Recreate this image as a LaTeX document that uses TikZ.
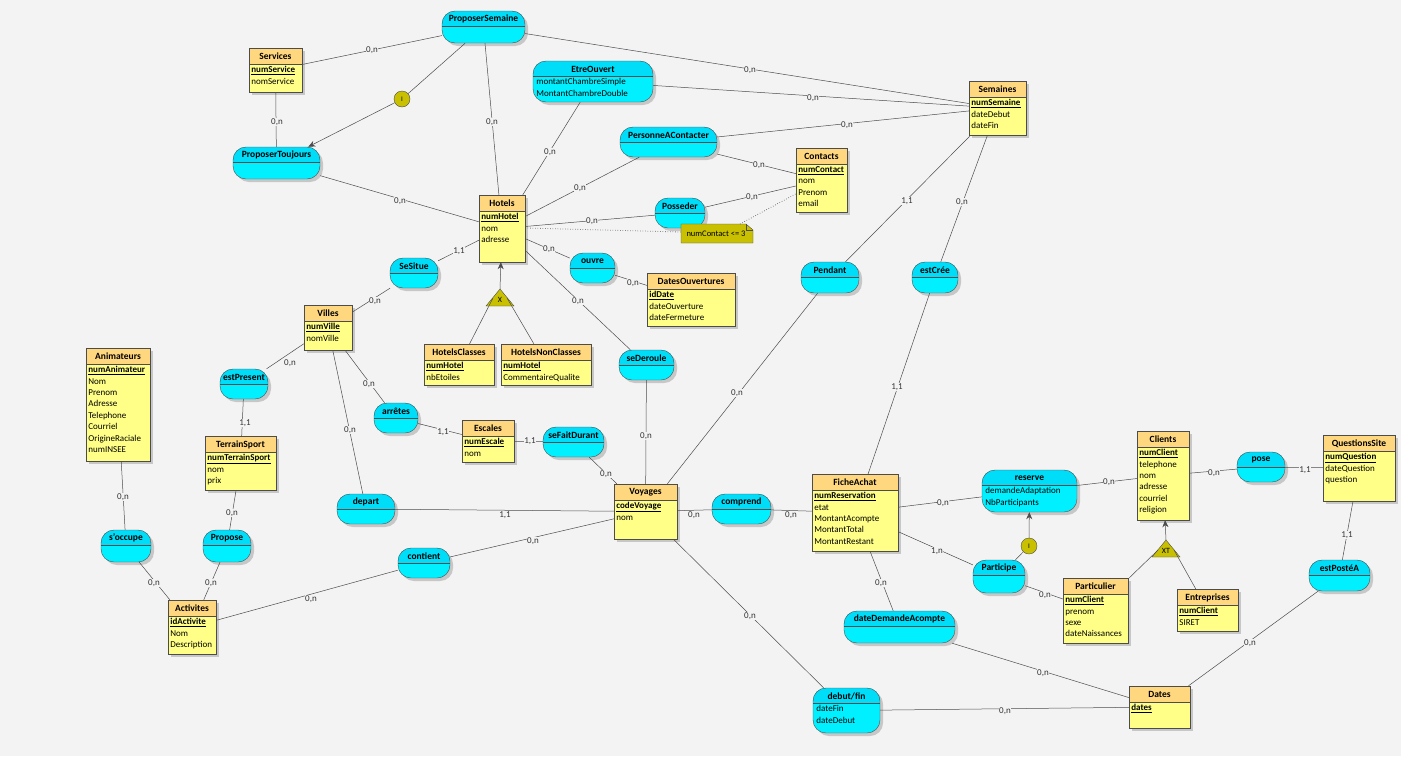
\documentclass[tikz,border=0pt]{standalone}
\usepackage{fontspec}
\setmainfont{Carlito}
\usetikzlibrary{arrows.meta}
\definecolor{bg}{HTML}{F3F3F3}
\definecolor{enthead}{HTML}{FFD77F}
\definecolor{entbody}{HTML}{FFFF88}
\definecolor{assohead}{HTML}{00DDF8}
\definecolor{assobody}{HTML}{00F0FF}
\definecolor{olive}{HTML}{C8C000}
\tikzset{
 lnk/.style={draw=black!70, line width=0.5pt},
 lbl/.style={fill=bg, inner sep=0.5pt, font=\fontsize{9}{10}\selectfont, text=black!80},
 arr/.style={lnk, -{Stealth[length=7pt,width=6pt]}},
}
\newcommand\ent[7]{%
 \fill[black!22] ({#2+3},{#3+3}) rectangle ({#2+#4+3},{#3+#5+3});
 \draw[fill=entbody, draw=black!70] (#2,#3) rectangle ({#2+#4},{#3+#5});
 \draw[fill=enthead, draw=black!70] (#2,#3) rectangle ({#2+#4},{#3+16});
 \node[font=\fontsize{9.5}{10}\selectfont\bfseries] at ({#2+#4/2},{#3+8.5}) {#6};
 \node[anchor=north west, align=left, inner sep=2.2pt, font=\fontsize{9}{11.4}\selectfont] at (#2,{#3+16}) {#7};
 \node[inner sep=0, minimum width=#4, minimum height=#5] (#1) at ({#2+#4/2},{#3+#5/2}) {};
}
\newcommand\asso[7]{%
 \fill[black!22, rounded corners=13pt] ({#2+3},{#3+3}) rectangle ({#4+3},{#5+3});
 \begin{scope}
  \clip[rounded corners=13pt] (#2,#3) rectangle (#4,#5);
  \fill[assobody] (#2,#3) rectangle (#4,#5);
  \fill[assohead] (#2,#3) rectangle (#4,{#3+15});
  \draw[black!70] (#2,{#3+15}) -- (#4,{#3+15});
 \end{scope}
 \draw[black!70, rounded corners=13pt] (#2,#3) rectangle (#4,#5);
 \node[font=\fontsize{9.5}{10}\selectfont\bfseries] at ({(#2+#4)/2},{#3+8}) {#6};
 \node[anchor=north west, align=left, inner sep=2.2pt, font=\fontsize{9}{11.4}\selectfont] at ({#2+1},{#3+15}) {#7};
 \node[inner sep=0, minimum width={#4-#2}, minimum height={#5-#3}] (#1) at ({(#2+#4)/2},{(#3+#5)/2}) {};
}
\newcommand\K[1]{\underline{\textbf{#1}}}
\begin{document}
\begin{tikzpicture}[x=1pt,y=-1pt]
\fill[bg] (0,0) rectangle (1401,756);
\useasboundingbox (0,0) rectangle (1401,756);
% entities
\ent{services}{249}{48}{53}{44}{Services}{\K{numService}\\nomService}
\ent{semaines}{969}{81}{57}{54}{Semaines}{\K{numSemaine}\\dateDebut\\dateFin}
\ent{contacts}{796}{148}{51}{64}{Contacts}{\K{numContact}\\nom\\Prenom\\email}
\ent{hotels}{479}{195}{46}{67}{Hotels}{\K{numHotel}\\nom\\adresse}
\ent{datesouv}{647}{273}{88}{53}{DatesOuvertures}{\K{idDate}\\dateOuverture\\dateFermeture}
\ent{villes}{304}{305}{48}{45}{Villes}{\K{numVille}\\nomVille}
\ent{hclass}{424}{344}{70}{41}{HotelsClasses}{\K{numHotel}\\nbEtoiles}
\ent{hnclass}{501}{344}{90}{41}{HotelsNonClasses}{\K{numHotel}\\CommentaireQualite}
\ent{anim}{86}{348}{64}{113}{Animateurs}{\K{numAnimateur}\\Nom\\Prenom\\Adresse\\Telephone\\Courriel\\OrigineRaciale\\numINSEE}
\ent{terrain}{205}{436}{71}{54}{TerrainSport}{\K{numTerrainSport}\\nom\\prix}
\ent{escales}{462}{420}{52}{42}{Escales}{\K{numEscale}\\nom}
\ent{voyages}{614}{484}{63}{55}{Voyages}{\K{codeVoyage}\\nom}
\ent{fiche}{812}{474}{86}{77}{FicheAchat}{\K{numReservation}\\etat\\MontantAcompte\\MontantTotal\\MontantRestant}
\ent{clients}{1137}{431}{52}{89}{Clients}{\K{numClient}\\telephone\\nom\\adresse\\courriel\\religion}
\ent{questions}{1323}{435}{72}{66}{QuestionsSite}{\K{numQuestion}\\dateQuestion\\question}
\ent{partic}{1063}{578}{65}{65}{Particulier}{\K{numClient}\\prenom\\sexe\\dateNaissances}
\ent{entrep}{1177}{589}{61}{42}{Entreprises}{\K{numClient}\\SIRET}
\ent{activ}{168}{600}{48}{54}{Activites}{\K{idActivite}\\Nom\\Description}
\ent{dates}{1129}{686}{61}{42}{Dates}{\K{dates}}
% associations
\asso{propsem}{442}{11}{525}{43}{ProposerSemaine}{}
\asso{etreouv}{533}{61}{653}{102}{EtreOuvert}{montantChambreSimple\\MontantChambreDouble}
\asso{proptouj}{233}{147}{320}{179}{ProposerToujours}{}
\asso{pers}{620}{127}{717}{157}{PersonneAContacter}{}
\asso{poss}{655}{198}{705}{228}{Posseder}{}
\asso{sesitue}{390}{258}{438}{288}{SeSitue}{}
\asso{ouvre}{570}{253}{615}{283}{ouvre}{}
\asso{estpres}{220}{369}{268}{399}{estPresent}{}
\asso{arretes}{374}{403}{418}{433}{arrêtes}{}
\asso{sefait}{543}{427}{604}{457}{seFaitDurant}{}
\asso{sederoule}{619}{350}{674}{380}{seDeroule}{}
\asso{pendant}{801}{262}{859}{293}{Pendant}{}
\asso{estcree}{912}{262}{958}{293}{estCrée}{}
\asso{depart}{337}{494}{395}{524}{depart}{}
\asso{comprend}{712}{494}{771}{524}{comprend}{}
\asso{soccupe}{101}{530}{151}{562}{s'occupe}{}
\asso{propose}{203}{530}{251}{562}{Propose}{}
\asso{contient}{398}{548}{450}{578}{contient}{}
\asso{reserve}{982}{470}{1077}{512}{reserve}{demandeAdaptation\\NbParticipants}
\asso{participe}{973}{560}{1025}{593}{Participe}{}
\asso{pose}{1237}{452}{1285}{482}{pose}{}
\asso{estposte}{1309}{560}{1370}{591}{estPostéA}{}
\asso{datedem}{844}{611}{955}{643}{dateDemandeAcompte}{}
\asso{debutfin}{813}{688}{880}{733}{debut/fin}{dateFin\\dateDebut}
% markers
\node[circle, draw=black!70, fill=olive, minimum size=16pt, inner sep=0, font=\fontsize{7}{8}\selectfont] (i1) at (402,99) {I};
\node[circle, draw=black!70, fill=olive, minimum size=16pt, inner sep=0, font=\fontsize{7}{8}\selectfont] (i2) at (1029,546) {I};
\draw[fill=olive, draw=black!70] (486,306) -- (500,289) -- (514,306) -- cycle;
\node[font=\fontsize{8}{8}\selectfont, inner sep=0] (x1) at (500,300) {X};
\draw[fill=olive, draw=black!70] (1152,557) -- (1166,540) -- (1180,557) -- cycle;
\node[font=\fontsize{8}{8}\selectfont, inner sep=0] (xt) at (1166,551) {XT};
\coordinate (xtop) at (1166,540);
\coordinate (xtop1) at (500,289);
\coordinate (xl1) at (493,298);
\coordinate (xr1) at (507,298);
\coordinate (xl2) at (1158,550);
\coordinate (xr2) at (1174,550);
% note
\draw[fill=olive, draw=black!70] (681,224) -- (746,224) -- (753,230) -- (753,243) -- (681,243) -- cycle;
\draw[black!70] (746,224) -- (746,230) -- (753,230);
\node[font=\fontsize{8.5}{9}\selectfont, inner sep=0] (note) at (716,234) {numContact <= 3};
\coordinate (notel) at (681,232);
\coordinate (notet) at (740,224);
% links
\draw[lnk] (propsem) -- (services);
\draw[lnk] (propsem) -- (semaines);
\draw[lnk] (propsem) -- (hotels);
\draw[lnk] (propsem) -- (i1);
\draw[arr] (i1) -- (proptouj);
\draw[lnk] (services) -- (proptouj);
\draw[lnk] (proptouj) -- (hotels);
\draw[lnk] (etreouv) -- (semaines);
\draw[lnk] (etreouv) -- (hotels);
\draw[lnk] (pers) -- (semaines);
\draw[lnk] (pers) -- (hotels);
\draw[lnk] (pers) -- (contacts);
\draw[lnk] (poss) -- (hotels);
\draw[lnk] (poss) -- (contacts);
\draw[lnk, dotted, line width=0.8pt] (hotels.east |- 0,228) -- (notel);
\draw[lnk, dotted, line width=0.8pt] (notet) -- (contacts);
\draw[lnk] (hotels) -- (sesitue);
\draw[lnk] (sesitue) -- (villes);
\draw[lnk] (hotels) -- (ouvre);
\draw[lnk] (ouvre) -- (datesouv);
\draw[lnk] (hotels) -- (sederoule);
\draw[lnk] (sederoule) -- (voyages);
\draw[arr] (xtop1) -- (hotels);
\draw[lnk] (hclass) -- (xl1);
\draw[lnk] (hnclass) -- (xr1);
\draw[lnk] (villes) -- (estpres);
\draw[lnk] (estpres) -- (terrain);
\draw[lnk] (villes) -- (arretes);
\draw[lnk] (arretes) -- (escales);
\draw[lnk] (escales) -- (sefait);
\draw[lnk] (sefait) -- (voyages);
\draw[lnk] (villes) -- (depart);
\draw[lnk] (depart) -- (voyages);
\draw[lnk] (anim) -- (soccupe);
\draw[lnk] (soccupe) -- (activ);
\draw[lnk] (terrain) -- (propose);
\draw[lnk] (propose) -- (activ);
\draw[lnk] (activ) -- (contient);
\draw[lnk] (contient) -- (voyages);
\draw[lnk] (voyages) -- (pendant);
\draw[lnk] (pendant) -- (semaines);
\draw[lnk] (semaines) -- (estcree);
\draw[lnk] (estcree) -- (fiche);
\draw[lnk] (voyages) -- (comprend);
\draw[lnk] (comprend) -- (fiche);
\draw[lnk] (voyages) -- (debutfin);
\draw[lnk] (debutfin) -- (dates);
\draw[lnk] (fiche) -- (reserve);
\draw[lnk] (reserve) -- (clients);
\draw[lnk] (fiche) -- (participe);
\draw[lnk] (participe) -- (partic);
\draw[lnk] (participe) -- (i2);
\draw[arr] (i2) -- (reserve);
\draw[lnk] (partic) -- (xl2);
\draw[lnk] (entrep) -- (xr2);
\draw[arr] (xtop) -- (clients);
\draw[lnk] (clients) -- (pose);
\draw[lnk] (pose) -- (questions);
\draw[lnk] (questions) -- (estposte);
\draw[lnk] (estposte) -- (dates);
\draw[lnk] (fiche) -- (datedem);
\draw[lnk] (datedem) -- (dates);
% labels
\foreach \n/\x/\y/\t in {
 a1/372/50/{0,n}, a2/750/70/{0,n}, a3/492/122/{0,n}, a5/277/122/{0,n}, a6/400/201/{0,n},
 a7/813/98/{0,n}, a8/550/152/{0,n}, a9/847/125/{0,n}, a10/580/188/{0,n}, a11/759/165/{0,n},
 a12/592/221/{0,n}, a13/752/197/{0,n}, a15/459/251/{1,1}, a16/375/301/{0,n}, a17/549/249/{0,n},
 a18/633/283/{0,n}, a19/578/301/{0,n}, a20/646/436/{0,n}, a22/290/363/{0,n}, a23/245/423/{1,1},
 a24/369/384/{0,n}, a25/443/432/{1,1}, a26/530/441/{1,1}, a27/606/474/{0,n}, a28/350/430/{0,n},
 a29/505/515/{1,1}, a30/123/497/{0,n}, a31/154/583/{0,n}, a32/232/513/{0,n}, a33/211/583/{0,n},
 a34/311/599/{0,n}, a35/533/541/{0,n}, a36/737/393/{0,n}, a37/907/201/{1,1}, a38/962/202/{0,n},
 a39/897/387/{1,1}, a40/694/515/{0,n}, a41/791/515/{0,n}, a42/750/616/{0,n}, a43/1005/711/{0,n},
 a44/943/503/{0,n}, a45/1109/482/{0,n}, a46/937/551/{1,n}, a47/1045/595/{0,n}, a50/1214/473/{0,n},
 a51/1305/470/{1,1}, a52/1347/535/{1,1}, a53/1250/643/{0,n}, a54/881/583/{0,n}, a55/1043/673/{0,n}}
 \node[lbl] (\n) at (\x,\y) {\t};
\end{tikzpicture}
\end{document}
